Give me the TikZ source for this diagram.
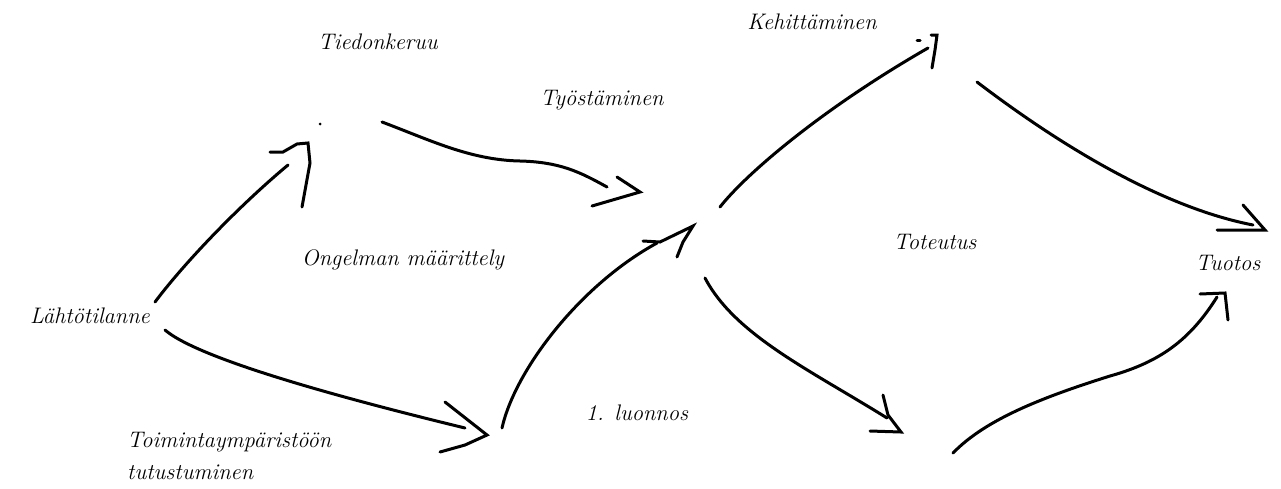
\documentclass[tikz,border=0pt]{standalone}
\begin{document}
\begin{tikzpicture}[x=1pt,y=-1pt,
  lbl/.style={font=\fontsize{22.5}{32}\selectfont\itshape, inner sep=0pt},
  stroke/.style={line width=3pt, line cap=round, line join=round},
  tip/.style={line width=3pt, line cap=round, line join=miter}]
\useasboundingbox[fill=white] (0,0) rectangle (1281,488);

% labels
\node[lbl] (tied) at (378,42) {Tiedonkeruu};
\node[lbl] (tyos) at (602,100) {Työstäminen};
\node[lbl] (kehi) at (812,22) {Kehittäminen};
\node[lbl] (ong) at (403,260) {Ongelman määrittely};
\node[lbl] (tot) at (935,242) {Toteutus};
\node[lbl] (tuot) at (1228,263) {Tuotos};
\node[lbl] (lahto) at (90,316) {Lähtötilanne};
\node[lbl] (luon) at (637,413) {1. luonnos};
\node[lbl, align=left, anchor=west] (toim) at (127,456) {Toimintaympäristöön\\tutustuminen};

% connector end points
\coordinate (a1s) at (155,302); \coordinate (a1e) at (288,165);
\coordinate (a2s) at (382,122); \coordinate (a2e) at (607,187);
\coordinate (a3s) at (165,330); \coordinate (a3e) at (465,428);
\coordinate (a4s) at (502,428); \coordinate (a4e) at (657,243);
\coordinate (a5s) at (720,207); \coordinate (a5e) at (928,48);
\coordinate (a6s) at (977,82);  \coordinate (a6e) at (1253,225);
\coordinate (a7s) at (705,278); \coordinate (a7e) at (887,418);
\coordinate (a8s) at (953,453); \coordinate (a8e) at (1217,297);

% strokes
\draw[stroke] (a1s) .. controls (185,262) and (240,205) .. (a1e);
\draw[stroke] (a2s) .. controls (430,140) and (470,160) .. (520,161)
                    .. controls (560,162) and (580,172) .. (a2e);
\draw[stroke] (a3s) .. controls (200,360) and (350,400) .. (a3e);
\draw[stroke] (a4s) .. controls (515,370) and (580,285) .. (a4e);
\draw[stroke] (a5s) .. controls (745,175) and (820,110) .. (a5e);
\draw[stroke] (a6s) .. controls (1040,130) and (1150,205) .. (a6e);
\draw[stroke] (a7s) .. controls (735,335) and (810,370) .. (a7e);
\draw[stroke] (a8s) .. controls (985,420) and (1040,398) .. (1110,376)
                    .. controls (1160,362) and (1190,340) .. (a8e);

% hand-drawn arrowheads
\draw[tip] (270,152) -- (283,152) -- (297,144) -- (308,143) -- (310,163) -- (302,207);
\draw[tip] (617,177) -- (640,192) -- (592,206);
\draw[tip] (445,402) -- (487,435) -- (465,445) -- (440,452);
\draw[tip] (643,241) -- (660,242) -- (693,226) -- (683,242) -- (677,257);
\draw[tip] (917,40) -- (920,40);
\draw[tip] (931,35) -- (937,35) -- (935,50) -- (932,68);
\draw[tip] (1243,205) -- (1265,230) -- (1217,230);
\draw[tip] (883,395) -- (888,415) -- (901,432) -- (870,431);
\draw[tip] (1200,294) -- (1225,293) -- (1228,320);

% stray dot
\fill (320,124) circle (1.5pt);
\end{tikzpicture}
\end{document}
